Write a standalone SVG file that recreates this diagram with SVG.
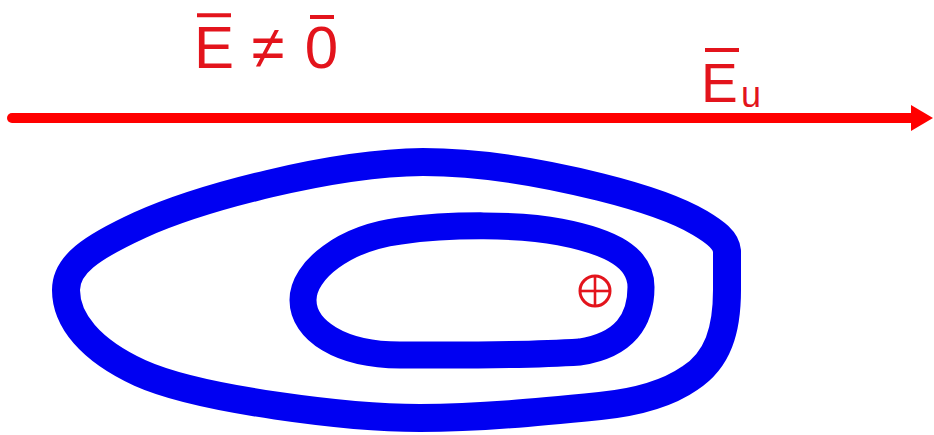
<svg xmlns="http://www.w3.org/2000/svg" width="934" height="435" viewBox="0 0 934 435">
  <style>
    .lbl { font-family: "Liberation Sans", Arial, sans-serif; fill: #e3141c; }
    .bar { stroke: #e3141c; stroke-width: 4; fill: none; }
    .loop { fill: none; stroke: #0000f2; stroke-linejoin: round; stroke-linecap: round; }
  </style>
  <rect width="934" height="435" fill="#ffffff"/>

  <g id="label-e-ne-0">
    <text class="lbl" x="214" y="68" font-size="60" text-anchor="middle">E</text>
    <text class="lbl" x="268" y="68" font-size="60" text-anchor="middle">≠</text>
    <text class="lbl" x="321.5" y="68" font-size="60" text-anchor="middle">0</text>
    <line class="bar" x1="197" y1="15.3" x2="231" y2="15.3"/>
    <line class="bar" x1="310" y1="17" x2="334" y2="17"/>
  </g>

  <g id="connectors">
    <g id="field-arrow">
      <line x1="12" y1="118" x2="914" y2="118" stroke="#ff0000" stroke-width="10" stroke-linecap="round"/>
      <polygon points="911,105 933,118 911,131" fill="#ff0000"/>
    </g>
  </g>

  <g id="label-eu">
    <text class="lbl" x="701" y="102" font-size="55">E</text>
    <text class="lbl" x="741" y="107" font-size="36">u</text>
    <line class="bar" x1="705" y1="50" x2="739" y2="50"/>
  </g>

  <g id="outer-loop">
    <path class="loop" stroke-width="28" d="M727,251 L727,290 C727,330 718,360 690,378 C670,392 640,402 600,406 C540,412 480,418 420,418 C350,418 200,400 140,373 C90,350 66,320 66,290 C66,265 90,248 140,225 C200,198 330,163 423,162 C480,162 540,172 600,187 C640,197 675,208 700,223 C715,232 726,240 727,251 Z"/>
  </g>

  <g id="inner-loop">
    <path class="loop" stroke-width="27" d="M303,300 C303,270 345,238 400,231 C450,224 520,224 560,232 C612,242 641,258 641,287 C641,320 625,345 580,352 C520,356 450,355 400,355 C340,355 303,330 303,300 Z"/>
  </g>

  <g id="charge">
    <circle cx="595" cy="291" r="15" fill="none" stroke="#e3141c" stroke-width="3"/>
    <line x1="580" y1="291" x2="610" y2="291" stroke="#e3141c" stroke-width="2.6"/>
    <line x1="595" y1="276" x2="595" y2="306" stroke="#e3141c" stroke-width="2.6"/>
  </g>
</svg>
